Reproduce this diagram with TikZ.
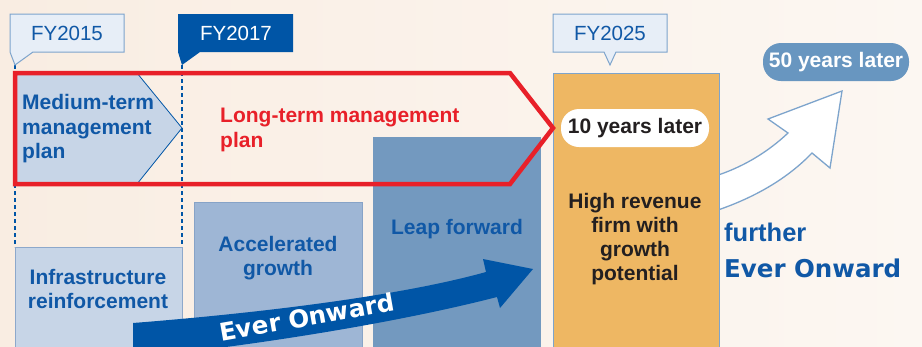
\documentclass[tikz,border=0pt]{standalone}
\usepackage{fontspec}
\setmainfont{Liberation Sans}
\newfontfamily\heavyfont{DejaVu Sans}
\definecolor{bgA}{RGB}{249,237,226}
\definecolor{bgB}{RGB}{252,247,242}
\definecolor{dblue}{RGB}{0,85,166}
\definecolor{tblue}{RGB}{16,88,166}
\definecolor{lblue}{RGB}{199,213,231}
\definecolor{cfill}{RGB}{231,238,247}
\definecolor{cline}{RGB}{125,164,204}
\definecolor{accel}{RGB}{158,182,213}
\definecolor{leap}{RGB}{115,153,191}
\definecolor{orng}{RGB}{238,183,99}
\definecolor{redc}{RGB}{232,32,41}
\definecolor{pill}{RGB}{104,150,192}
\definecolor{txtdark}{RGB}{35,31,32}
\tikzset{
  txt/.style={inner sep=0pt, align=center, font=\fontsize{21}{24.5}\selectfont\bfseries},
  fylabel/.style={inner sep=0pt, font=\fontsize{20.5}{24}\selectfont},
  callout/.style={fill=cfill, draw=cline, line width=1pt},
  boxline/.style={line width=1pt},
  pillbox/.style={rounded corners=18pt, minimum width=148pt, minimum height=38pt, inner sep=0pt, font=\fontsize{21}{24}\selectfont\bfseries},
  dashline/.style={draw=dblue, dash pattern=on 4pt off 3pt, line width=1.2pt}
}
\begin{document}
\begin{tikzpicture}[x=1pt,y=-1pt]
\useasboundingbox (0,0) rectangle (922,346);
\shade[left color=bgA, right color=bgB] (0,0) rectangle (922,346);
\begin{scope}
\clip (0,0) rectangle (922,346);
% dashed guide lines
\coordinate (d1t) at (15,65); \coordinate (d1b) at (15,247);
\coordinate (d2t) at (182,65); \coordinate (d2b) at (182,247);
\draw[dashline] (d1t) -- (d1b);
\draw[dashline] (d2t) -- (d2b);
% boxes
\path[fill=lblue, draw={rgb,255:red,141;green,168;blue,203}, boxline] (15,247) rectangle (182,352);
\path[fill=accel, draw={rgb,255:red,135;green,163;blue,199}, boxline] (194,202) rectangle (362,352);
\path[fill=leap] (373,137) rectangle (541,352);
% Ever Onward band
\fill[dblue] (133,323) .. controls (260,313) and (400,296) .. (486,272) -- (483,259) -- (533,269) -- (500,308) -- (497,297)
  .. controls (400,322) and (260,345) .. (133,358) -- cycle;
\node[inner sep=0pt, text=white, rotate=10, font=\fontsize{24.5}{28}\selectfont\heavyfont\bfseries] (ever) at (307,317) {Ever Onward};
% white arrow
\path[fill=white, draw=cline, line width=1.3pt, line join=miter] (712,177) .. controls (742,168) and (768,152) .. (788,133) -- (768,119) -- (842,91) -- (830,168) -- (812,153)
  .. controls (788,178) and (755,198) .. (712,212);
% orange box
\path[fill=orng, draw=cline, boxline] (553,73) rectangle (719,352);
\end{scope}
% medium-term pentagon
\path[fill=lblue, draw=dblue, line width=0.8pt] (15,73) -- (137,73) -- (182,128) -- (137,184) -- (15,184) -- cycle;
% red long-term pentagon
\draw[redc, line width=4.5pt, line join=miter] (15,73) -- (510,73) -- (553,128) -- (510,184) -- (15,184) -- cycle;
% callouts
\path[callout] (10,14) -- (124,14) -- (124,52) -- (33,52) -- (15,65) -- (10,52) -- cycle;
\path[fill=dblue] (178,14) -- (293,14) -- (293,52) -- (200,52) -- (182,65) -- (178,52) -- cycle;
\path[callout] (553,14) -- (667,14) -- (667,52) -- (616,52) -- (610,65) -- (604,52) -- (553,52) -- cycle;
\node[fylabel, text=tblue] (fy15) at (67,33) {FY2015};
\node[fylabel, text=white] (fy17) at (236,33) {FY2017};
\node[fylabel, text=tblue] (fy25) at (610,33) {FY2025};
% pills
\node[pillbox, fill=white, text=txtdark] (ten) at (635,128) {10 years later};
\node[pillbox, fill=pill, text=white, minimum width=146pt] (fifty) at (836,62) {50 years later};
% texts
\node[txt, text=tblue, align=left, anchor=west] (medium) at (22,129) {Medium-term\\management\\plan};
\node[txt, text=redc, align=left, anchor=west] (long) at (220,130) {Long-term management\\plan};
\node[txt, text=tblue] (infra) at (98,289) {Infrastructure\\reinforcement};
\node[txt, text=tblue] (accel) at (278,258) {Accelerated\\growth};
\node[txt, text=tblue] (leaptx) at (457,229) {Leap forward};
\node[txt, text=txtdark, font=\fontsize{21}{23.8}\selectfont\bfseries] (high) at (635,239) {High revenue\\firm with\\growth\\potential};
\node[txt, text=tblue, anchor=west, font=\fontsize{25.5}{28}\selectfont\bfseries] (further) at (724,232) {further};
\node[inner sep=0pt, text=tblue, anchor=west, font=\fontsize{24.5}{28}\selectfont\heavyfont\bfseries] (ever2) at (724,268) {Ever Onward};
\end{tikzpicture}
\end{document}
